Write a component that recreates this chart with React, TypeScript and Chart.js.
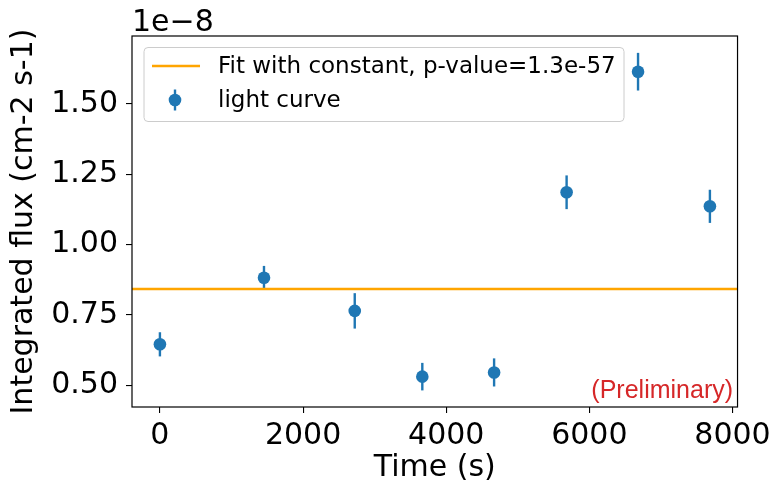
import React, { useEffect, useRef } from "react";
import { Chart, registerables } from "chart.js";

Chart.register(...registerables);

// ---- data (flux in units of 1e-8 cm-2 s-1) ----
const timeS = [0, 1454, 2722, 3666, 4669, 5682, 6680, 7684];
const fluxE8 = [0.645, 0.882, 0.764, 0.53, 0.545, 1.186, 1.615, 1.136];
const fluxErrE8 = [0.043, 0.042, 0.063, 0.049, 0.05, 0.06, 0.067, 0.059];
const fitConstantE8 = 0.842;
const xTickValues = [0, 2000, 4000, 6000, 8000];
const yTickValues = [0.5, 0.75, 1.0, 1.25, 1.5];
const xLimits = [-390, 8070];
const yLimits = [0.422, 1.742];
const fitLabel = "Fit with constant, p-value=1.3e-57";
const curveLabel = "light curve";
const xTitle = "Time (s)";
const yTitle = "Integrated flux (cm-2 s-1)";
const offsetText = "1e\u22128";
const stampText = "(Preliminary)";

const BLUE = "#1f77b4";
const ORANGE = "#ffa500";
const RED = "#d62728";
const FONT = "'DejaVu Sans', sans-serif";

const errorBarPlugin = {
  id: "errorBars",
  beforeDatasetsDraw(chart: any) {
    const { ctx, scales } = chart;
    const xs = scales.x;
    const ys = scales.y;
    ctx.save();
    ctx.strokeStyle = BLUE;
    ctx.lineWidth = 2.4;
    ctx.lineCap = "butt";
    for (let i = 0; i < timeS.length; i++) {
      const px = xs.getPixelForValue(timeS[i]);
      const y1 = ys.getPixelForValue(fluxE8[i] - fluxErrE8[i]);
      const y2 = ys.getPixelForValue(fluxE8[i] + fluxErrE8[i]);
      ctx.beginPath();
      ctx.moveTo(px, y1);
      ctx.lineTo(px, y2);
      ctx.stroke();
    }
    ctx.restore();
  },
};

const decorPlugin = {
  id: "decor",
  afterDraw(chart: any) {
    const { ctx, chartArea } = chart;
    const { left, top, right, bottom } = chartArea;
    ctx.save();
    // frame
    ctx.strokeStyle = "#000";
    ctx.lineWidth = 1.2;
    ctx.strokeRect(left, top, right - left, bottom - top);

    // offset text
    ctx.fillStyle = "#000";
    ctx.font = `30px ${FONT}`;
    ctx.textAlign = "left";
    ctx.textBaseline = "alphabetic";
    ctx.fillText(offsetText, left, top - 5);

    // preliminary stamp
    ctx.fillStyle = RED;
    ctx.font = `25px 'Liberation Sans', Arial, sans-serif`;
    ctx.textAlign = "right";
    ctx.fillText(stampText, right - 4.5, bottom - 9);

    // legend
    const lx = left + 12;
    const ly = top + 11.5;
    const lw = 480;
    const lh = 74;
    ctx.beginPath();
    ctx.roundRect(lx, ly, lw, lh, 4);
    ctx.fillStyle = "rgba(255,255,255,0.8)";
    ctx.fill();
    ctx.strokeStyle = "#cccccc";
    ctx.lineWidth = 1;
    ctx.stroke();

    const row1 = ly + 18.5;
    const row2 = ly + 52.5;
    ctx.strokeStyle = ORANGE;
    ctx.lineWidth = 2.4;
    ctx.beginPath();
    ctx.moveTo(lx + 8, row1);
    ctx.lineTo(lx + 56, row1);
    ctx.stroke();

    const mx = lx + 31;
    ctx.strokeStyle = BLUE;
    ctx.beginPath();
    ctx.moveTo(mx, row2 - 10.5);
    ctx.lineTo(mx, row2 + 10.5);
    ctx.stroke();
    ctx.fillStyle = BLUE;
    ctx.beginPath();
    ctx.arc(mx, row2, 6.3, 0, Math.PI * 2);
    ctx.fill();

    ctx.fillStyle = "#000";
    ctx.font = `23px ${FONT}`;
    ctx.textAlign = "left";
    ctx.textBaseline = "middle";
    ctx.fillText(fitLabel, lx + 74, row1 + 1);
    ctx.fillText(curveLabel, lx + 74, row2 + 1);
    ctx.restore();
  },
};

export default function App() {
  const canvasRef = useRef<HTMLCanvasElement | null>(null);

  useEffect(() => {
    document.body.style.margin = "0";
    const canvas = canvasRef.current;
    if (!canvas) return;
    const chart = new Chart(canvas, {
      type: "scatter",
      data: {
        datasets: [
          {
            type: "line",
            label: fitLabel,
            data: [
              { x: xLimits[0], y: fitConstantE8 },
              { x: xLimits[1], y: fitConstantE8 },
            ],
            borderColor: ORANGE,
            borderWidth: 2.4,
            pointRadius: 0,
            fill: false,
            order: 0,
          } as any,
          {
            label: curveLabel,
            data: timeS.map((t, i) => ({ x: t, y: fluxE8[i] })),
            backgroundColor: BLUE,
            borderWidth: 0,
            pointRadius: 6.3,
            pointHoverRadius: 6.3,
            order: 1,
          },
        ],
      },
      options: {
        responsive: false,
        animation: false,
        devicePixelRatio: 1,
        layout: { padding: { top: 36, right: 37, left: 0, bottom: 0 } },
        plugins: {
          legend: { display: false },
          tooltip: { enabled: false },
        },
        scales: {
          x: {
            type: "linear",
            min: xLimits[0],
            max: xLimits[1],
            afterBuildTicks: (s: any) => {
              s.ticks = xTickValues.map((value) => ({ value }));
            },
            afterFit: (s: any) => {
              s.height = 81;
            },
            border: { display: false },
            grid: {
              drawOnChartArea: false,
              drawTicks: true,
              tickLength: 6,
              color: "#000",
              lineWidth: 1.1,
            },
            ticks: {
              color: "#000",
              font: { family: FONT, size: 30 },
              padding: 5,
              maxRotation: 0,
              callback: (v: any) => String(v),
            },
            title: {
              display: true,
              text: xTitle,
              color: "#000",
              font: { family: FONT, size: 30 },
              padding: { top: 0, bottom: 2 },
            },
          },
          y: {
            type: "linear",
            min: yLimits[0],
            max: yLimits[1],
            afterBuildTicks: (s: any) => {
              s.ticks = yTickValues.map((value) => ({ value }));
            },
            afterFit: (s: any) => {
              s.width = 132;
            },
            border: { display: false },
            grid: {
              drawOnChartArea: false,
              drawTicks: true,
              tickLength: 6,
              color: "#000",
              lineWidth: 1.1,
            },
            ticks: {
              color: "#000",
              font: { family: FONT, size: 30 },
              padding: 8,
              callback: (v: any) => Number(v).toFixed(2),
            },
            title: {
              display: true,
              text: yTitle,
              color: "#000",
              font: { family: FONT, size: 30 },
              padding: { top: 6, bottom: 0 },
            },
          },
        },
      },
      plugins: [errorBarPlugin, decorPlugin],
    });
    return () => chart.destroy();
  }, []);

  return (
    <canvas
      ref={canvasRef}
      width={776}
      height={488}
      style={{ display: "block", width: 776, height: 488 }}
    />
  );
}
